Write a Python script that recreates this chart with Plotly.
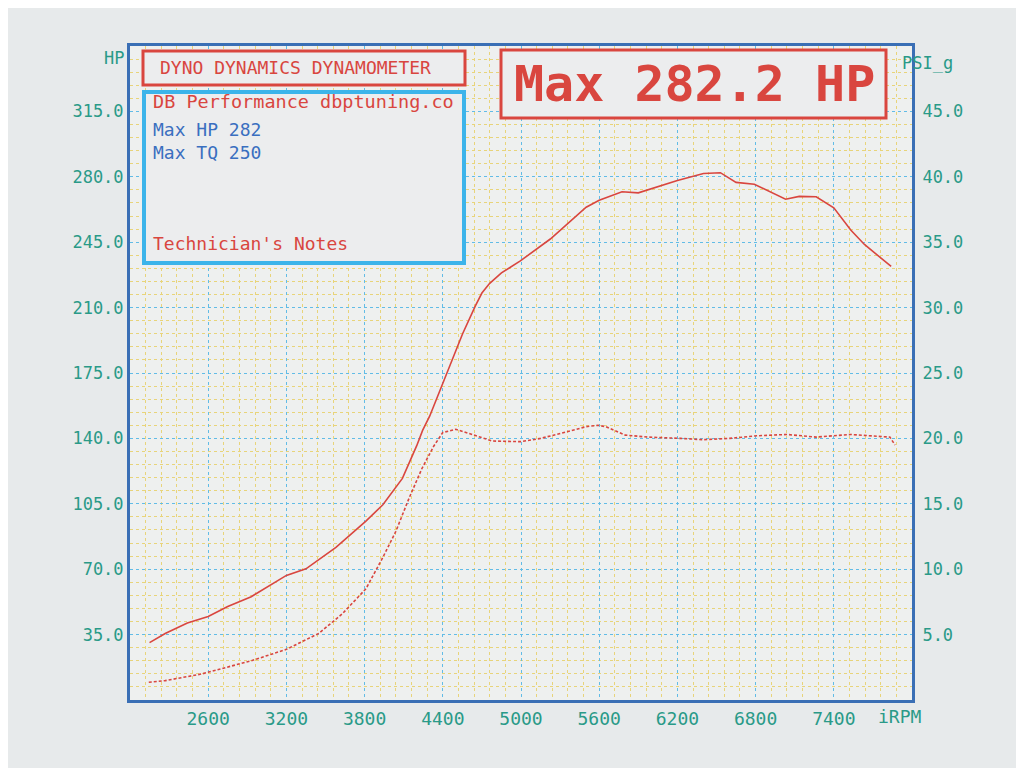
import plotly.graph_objects as go

# ---- data read from the dyno sheet ----
rpm_hp = [2150, 2270, 2440, 2600, 2750, 2930, 3200, 3350, 3580, 3810, 3940, 4090, 4200, 4245,
          4300, 4405, 4552, 4650, 4700, 4760, 4850, 4995, 5118, 5225, 5500, 5600, 5775, 5900,
          6200, 6400, 6530, 6650, 6790, 7030, 7135, 7265, 7400, 7530, 7635, 7840]
hp = [30.7, 35.6, 41.2, 44.7, 50.0, 55.3, 66.7, 70.2, 81.7, 95.7, 104.5, 118.6, 136.1, 144.3,
      152.0, 170.2, 196.0, 210.9, 217.8, 223.0, 228.6, 235.0, 241.0, 246.7, 263.7, 267.4, 272.0, 271.4,
      278.0, 281.8, 282.2, 277.0, 276.0, 268.0, 269.5, 269.3, 263.4, 251.5, 243.8, 232.0]

rpm_boost = [2144, 2270, 2550, 2930, 3200, 3450, 3630, 3810, 3940, 4040, 4140, 4240, 4330, 4400,
             4500, 4780, 5000, 5150, 5350, 5500, 5590, 5650, 5800, 5975, 6225, 6400, 6600, 6810,
             7040, 7265, 7530, 7700, 7830, 7870]
boost_psi = [1.36, 1.48, 1.99, 3.0, 3.87, 5.1, 6.6, 8.5, 10.9, 12.9, 15.4, 17.7, 19.4, 20.45,
             20.7, 19.8, 19.75, 20.0, 20.5, 20.9, 21.0, 20.9, 20.25, 20.1, 20.0, 19.9, 20.0, 20.2,
             20.3, 20.1, 20.3, 20.2, 20.1, 19.5]

x_ticks = [2600, 3200, 3800, 4400, 5000, 5600, 6200, 6800, 7400]
hp_ticks = [35, 70, 105, 140, 175, 210, 245, 280, 315]
psi_ticks = [5, 10, 15, 20, 25, 30, 35, 40, 45]

# ---- styling ----
TEAL = "#2a9a88"
RED = "#d9463f"
BLUE_TXT = "#3a6fc0"
FRAME = "#3a6fb5"
MAJ = "#62bce6"
MIN = "#e8d47a"
MONO = "DejaVu Sans Mono"

OFF = 8  # page offset of the figure in the browser window
L, R, T, B = 130, 912, 46, 700   # plot area in window pixels
W, H = R - L, B - T


def px(x):
    return (x - L) / W


def py(y):
    return (B - y) / H


fig = go.Figure()
fig.add_trace(go.Scatter(x=rpm_hp, y=hp, mode="lines", name="HP",
                         line=dict(color=RED, width=1.6), yaxis="y"))
fig.add_trace(go.Scatter(x=rpm_boost, y=boost_psi, mode="lines", name="PSI_g",
                         line=dict(color=RED, width=1.6, dash="3px,2px"), yaxis="y2"))

fig.update_layout(
    width=1024, height=768,
    margin=dict(l=L - OFF, r=1024 - R + OFF, t=T - OFF, b=768 - B + OFF),
    paper_bgcolor="#e7eaeb",
    plot_bgcolor="#eef0ef",
    showlegend=False,
    font=dict(family=MONO, color=TEAL, size=17),
    xaxis=dict(range=[2000, 8000], tickmode="array", tickvals=x_ticks,
               ticktext=[str(v) for v in x_ticks],
               showgrid=True, gridcolor=MAJ, griddash="dot", gridwidth=1,
               minor=dict(dtick=120, tick0=2000, showgrid=True, gridcolor=MIN,
                          griddash="dot", gridwidth=1),
               showline=True, linecolor=FRAME, linewidth=3, mirror=True,
               zeroline=False, ticks="", tickfont=dict(family=MONO, color=TEAL, size=18)),
    yaxis=dict(range=[0, 350], tickmode="array", tickvals=hp_ticks,
               ticktext=[f"{v:.1f}" for v in hp_ticks],
               showgrid=True, gridcolor=MAJ, griddash="dot", gridwidth=1,
               minor=dict(dtick=7, tick0=0, showgrid=True, gridcolor=MIN,
                          griddash="dot", gridwidth=1),
               showline=True, linecolor=FRAME, linewidth=3, mirror=True,
               zeroline=False, ticks="", tickfont=dict(family=MONO, color=TEAL, size=17)),
    yaxis2=dict(range=[0, 50], overlaying="y", side="right", tickmode="array",
                tickvals=psi_ticks, ticktext=[f"{v:.1f}" for v in psi_ticks],
                showgrid=False, zeroline=False, ticks="outside", ticklen=6,
                tickcolor="rgba(0,0,0,0)",
                tickfont=dict(family=MONO, color=TEAL, size=17)),
)

shapes = [
    dict(type="rect", xref="paper", yref="paper", x0=px(143), x1=px(465), y0=py(85), y1=py(51),
         line=dict(color=RED, width=3), fillcolor="#ecedee", layer="above"),
    dict(type="rect", xref="paper", yref="paper", x0=px(144), x1=px(464), y0=py(263), y1=py(92),
         line=dict(color="#3cb4ea", width=4), fillcolor="#ecedee", layer="above"),
    dict(type="rect", xref="paper", yref="paper", x0=px(501), x1=px(886), y0=py(118), y1=py(50),
         line=dict(color=RED, width=3), fillcolor="#ecedee", layer="above"),
]
fig.update_layout(shapes=shapes)


def ann(text, x, y, color, size, xanchor="left", bold=False):
    fig.add_annotation(text=(f"<b>{text}</b>" if bold else text), xref="paper", yref="paper",
                       x=px(x), y=py(y), xanchor=xanchor, yanchor="middle", showarrow=False,
                       font=dict(family=MONO, color=color, size=size))


ann("DYNO DYNAMICS DYNAMOMETER", 158, 68, RED, 18)
ann("DB Performance dbptuning.co", 151, 102, RED, 18.5)
ann("Max HP 282", 151, 129, BLUE_TXT, 18)
ann("Max TQ 250", 151, 152, BLUE_TXT, 18)
ann("Technician's Notes", 151, 243, RED, 18)
ann("Max 282.2 HP", 694, 84, RED, 50, xanchor="center", bold=True)
ann("HP", 126, 58, TEAL, 17, xanchor="right")
ann("PSI_g", 900, 63, TEAL, 17)
ann("iRPM", 876, 716, TEAL, 18)

fig.write_html("out.html")
